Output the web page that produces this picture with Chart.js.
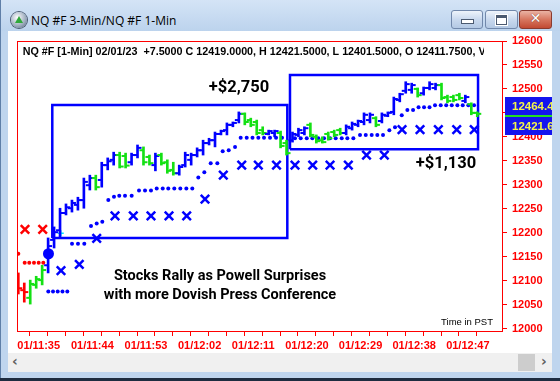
<!DOCTYPE html>
<html><head><meta charset="utf-8">
<script src="https://cdn.jsdelivr.net/npm/chart.js@4.4.1/dist/chart.umd.min.js"></script>
<style>
html,body{margin:0;padding:0;}
body{width:560px;height:381px;overflow:hidden;position:relative;background:#bfd5ee;}
#edgeL{position:absolute;left:0;top:0;width:1px;height:381px;background:#5f7fa8;}
#title{position:absolute;left:1px;top:0;width:559px;height:31px;background:linear-gradient(#d4e4f6,#bcd3ed);}
#icon{position:absolute;left:10px;top:12px;width:16px;height:16px;border-radius:50%;background:radial-gradient(circle at 40% 35%,#ffffff,#9aa9bb 60%,#4d5d73);box-shadow:0 0 0 1px #4a5a70;}
#tri{position:absolute;left:4px;top:4px;width:0;height:0;border-left:4px solid transparent;border-right:4px solid transparent;border-bottom:7px solid #2fa83a;}
#ttext{position:absolute;left:30px;top:12px;font:12px "Open Sans",sans-serif;color:#000;white-space:nowrap;}
.btn{position:absolute;top:10px;height:17px;border:1px solid #7188ab;border-radius:3px;background:linear-gradient(#eef4fb,#c9d9ee 50%,#b4c9e4);}
#bmin{left:450px;width:30px;}
#bmax{left:484px;width:31px;}
#bcls{left:518px;width:31px;border-color:#8a3a2e;background:linear-gradient(#eab3a4,#d77760 50%,#c24a33);}
#bmin i{position:absolute;left:9px;top:8px;width:11px;height:3px;background:#fff;border:1px solid #4b5a70;}
#bmax i{position:absolute;left:10px;top:4px;width:9px;height:6px;border:1px solid #4b5a70;border-top-width:3px;background:#fff;box-shadow:0 0 0 1px #fff;}
#bcls i{position:absolute;left:0;top:-1px;width:31px;text-align:center;font:bold 14px "DejaVu Sans",sans-serif;color:#fff;text-shadow:0 0 1px #5a1a10;}
#client{position:absolute;left:8px;top:31px;width:544px;height:322px;background:#fff;}
#scroll{position:absolute;left:8px;top:353px;width:544px;height:19px;background:#f0f0f0;}
#thumb{position:absolute;left:510px;top:1px;width:17px;height:17px;background:#cdcdcd;}
.arr{position:absolute;top:0px;font:bold 14px "DejaVu Sans",sans-serif;color:#606060;}
#bot{position:absolute;left:0;top:378px;width:560px;height:3px;background:#1e2c40;}
canvas{position:absolute;left:0;top:0;}
</style></head>
<body>
<div id="edgeL"></div>
<div id="title"><div id="icon"><div id="tri"></div></div><div id="ttext">NQ #F 3-Min/NQ #F 1-Min</div>
<div class="btn" id="bmin"><i></i></div><div class="btn" id="bmax"><i></i></div><div class="btn" id="bcls"><i>✕</i></div></div>
<div id="client"></div>
<div id="scroll"><span class="arr" style="left:4px">&lsaquo;</span><div id="thumb"></div><span class="arr" style="left:533px">&rsaquo;</span></div>
<div id="bot"></div>
<canvas id="c" width="560" height="381"></canvas>
<script>
// ---- data (minutes after 11:00, prices) ----
const barMinute = [32,33,34,35,36,37,38,39,40,41,42,43,44,45,46,47,48,49,50,51,52,53,54,55,56,57,58,59,60,61,62,63,64,65,66,67,68,69,70,71,72,73,74,75,76,77,78,79,80,81,82,83,84,85,86,87,88,89,90,91,92,93,94,95,96,97,98,99,100,101,102,103,104,105,106,107,108,109];
const barOpen  = [12091,12080,12064,12091,12101,12132,12185,12205,12241,12251,12258,12268,12299,12314,12310,12341,12352,12362,12360,12347,12362,12372,12358,12341,12362,12347,12331,12324,12341,12352,12362,12372,12387,12393,12406,12414,12425,12435,12448,12435,12431,12414,12406,12408,12408,12387,12393,12404,12408,12425,12400,12393,12406,12410,12414,12408,12418,12425,12431,12435,12439,12433,12444,12452,12477,12496,12498,12500,12491,12502,12502,12508,12483,12483,12487,12475,12468,12450];
const barHigh  = [12116,12095,12101,12109,12132,12189,12212,12251,12260,12268,12274,12314,12320,12320,12347,12356,12368,12368,12366,12366,12383,12379,12362,12366,12366,12352,12347,12341,12368,12366,12377,12393,12397,12410,12414,12429,12431,12452,12450,12439,12435,12421,12414,12414,12412,12393,12410,12418,12421,12429,12404,12400,12410,12414,12418,12425,12431,12435,12450,12450,12442,12450,12452,12483,12491,12515,12512,12502,12504,12515,12512,12512,12487,12487,12491,12487,12471,12452];
const barLow   = [12072,12055,12051,12084,12091,12116,12168,12189,12237,12243,12247,12251,12289,12289,12295,12331,12341,12335,12335,12341,12356,12341,12341,12329,12341,12324,12320,12320,12337,12341,12358,12362,12383,12379,12404,12404,12421,12429,12425,12421,12404,12404,12404,12400,12377,12362,12389,12400,12404,12400,12387,12387,12393,12400,12404,12404,12414,12421,12425,12429,12421,12429,12442,12446,12473,12491,12491,12483,12487,12498,12498,12477,12471,12473,12477,12471,12446,12442];
const barClose = [12084,12076,12093,12103,12122,12172,12201,12241,12253,12262,12268,12306,12314,12295,12341,12349,12362,12338,12340,12362,12377,12347,12345,12360,12345,12329,12324,12337,12362,12362,12372,12387,12393,12406,12412,12425,12429,12448,12431,12425,12408,12408,12412,12412,12381,12366,12406,12414,12418,12404,12391,12389,12397,12404,12408,12421,12427,12433,12446,12446,12425,12446,12450,12479,12489,12510,12508,12487,12502,12510,12508,12481,12475,12477,12481,12483,12450,12448];
// paint-bar state: R = before signal, G = pullback, B = trend
const barState = ("RR"+"GGG"+"BBBBBBBB"+"G"+"BBB"+"GG"+"BB"+"GG"+"B"+"GGG"+"BBBBBBBBBBB"+"GGGG"+"BB"+"GG"+"BBB"+"GGGGGG"+"BBBBB"+"G"+"BBBBBB"+"G"+"BBB"+"GGGG"+"B"+"GG").split("");
const stopDotsRed = [[31.58,12156],[32.65,12137],[33.42,12137],[34.21,12137],[35.00,12137],[35.77,12137]];
const stopDotsBlue = [[36.61,12077],[37.40,12077],[38.19,12077],[38.99,12077],[39.80,12077],
 [40.59,12177],[41.59,12177],[42.65,12177],[43.78,12214],[44.73,12219],[45.67,12223],
 [46.68,12268],[47.63,12275],[48.52,12277],[49.48,12277],[50.60,12277],
 [51.83,12288],[52.84,12288],[53.84,12288],[54.80,12292],[55.81,12292],[56.74,12292],[57.75,12292],[58.76,12292],[59.77,12292],[60.77,12292],
 [61.78,12315],[62.79,12326],[63.86,12345],[64.97,12345],[65.87,12370],[66.88,12372],[67.94,12379],
 [68.89,12398],[69.90,12398],[70.87,12398],[71.85,12398],[72.80,12398],[73.81,12398],[74.82,12398],[75.82,12398],
 [78.00,12397],[78.96,12397],[79.97,12397],[80.91,12397],[81.91,12397],[82.87,12397],[83.88,12397],[84.83,12397],[85.84,12397],[86.78,12397],[87.79,12397],
 [88.91,12404],[89.87,12404],[90.87,12404],[91.81,12404],[92.77,12404],
 [93.83,12414],[94.78,12420],[95.91,12445],[96.85,12456],[97.81,12456],[98.73,12462],[99.65,12462],[100.57,12462],
 [101.49,12466],[102.45,12466],[103.37,12466],[104.30,12466],[105.24,12466],[106.14,12466],[107.08,12466],[108.04,12466]];
const stopXRed = [[32.70,12207],[35.67,12207]];
const stopXBlue = [[38.74,12121],[41.81,12134],[44.73,12188],[47.80,12235],[50.87,12235],[53.84,12235],[56.86,12235],[59.83,12235],[62.90,12270],[65.97,12320],[69.06,12341],[71.85,12341],[74.90,12341],[78.00,12341],[80.97,12341],[83.88,12341],[86.95,12341],[90.00,12362],[92.99,12362],[95.96,12415],[98.98,12415],[102.05,12415],[105.13,12415],[108.07,12415]];
const entryDot = [36.64,12156];
const cyanMark = [38.70,12199];
// trade boxes: [startMinute, endMinute, lowPrice, highPrice]
const trade1 = [37.28,76.71,12188.7,12466.4];
const trade2 = [77.16,108.71,12374,12529];
const priceMarkers = [12464.4,12421.6];
const lastPrice = 12444.5;
const yTicks = [12000,12050,12100,12150,12200,12250,12300,12350,12400,12450,12500,12550,12600];
const xTicks = [32,35,38,41,44,47,50,53,56,59,62,65,68,71,74,77,80,83,86,89,92,95,98,101,104,107];
const headerText = "NQ #F [1-Min] 02/01/23  +7.5000 C 12419.0000, H 12421.5000, L 12401.5000, O 12411.7500, V";

// ---- chart ----
const BAR_SHIFT = -0.42;
const pal = {R:'#ff0000', G:'#14e014', B:'#0000ff'};
const cols = barState.map(s => pal[s]);
const bx = barMinute.map(m => m + BAR_SHIFT);
const pts = a => a.map(p => ({x:p[0], y:p[1]}));
const box = b => [{x:b[0],y:b[2]},{x:b[1],y:b[2]},{x:b[1],y:b[3]},{x:b[0],y:b[3]},{x:b[0],y:b[2]}];
function lab(m){const h=11+Math.floor(m/60), mm=m%60; return '01/'+h+':'+String(mm).padStart(2,'0');}

const notes = [
 {text:'+$2,750', x:68.61, y:12493.5, font:'bold 16.5px Roboto', align:'center'},
 {text:'+$1,130', x:103.34, y:12335, font:'bold 16.5px Roboto', align:'center'},
 {text:'Stocks Rally as Powell Surprises', x:65.42, y:12101, font:'bold 14.5px Roboto', align:'center'},
 {text:'with more Dovish Press Conference', x:65.42, y:12061, font:'bold 14.5px Roboto', align:'center'},
 {text:'Time in PST', x:111.22, y:12007, font:'9.5px "Liberation Sans"', align:'right'}
];

const decor = {
 id:'decor',
 beforeDatasetsDraw(chart){
   const {ctx, chartArea:a} = chart;
   ctx.save(); ctx.strokeStyle='#ff0000'; ctx.lineWidth=1;
   ctx.strokeRect(a.left+0.5, a.top+0.5, a.right-a.left, a.bottom-a.top);
   ctx.restore();
 },
 afterDraw(chart){
   const {ctx, chartArea:a, scales:{x,y}} = chart;
   ctx.save();
   // header
   ctx.save(); ctx.beginPath(); ctx.rect(a.left, a.top, 467, 30); ctx.clip();
   ctx.font='bold 10.75px "Liberation Sans"'; ctx.fillStyle='#000'; ctx.textBaseline='middle'; ctx.textAlign='left';
   ctx.fillText(headerText, x.getPixelForValue(32.32), y.getPixelForValue(12576));
   ctx.restore();
   ctx.fillStyle='#000'; ctx.textBaseline='alphabetic';
   for(const n of notes){ ctx.font=n.font; ctx.textAlign=n.align; ctx.fillText(n.text, x.getPixelForValue(n.x), y.getPixelForValue(n.y)); }
   // price markers on axis
   ctx.beginPath(); ctx.rect(a.right+1, a.top, 49, a.bottom-a.top); ctx.clip();
   for(const v of priceMarkers){
     const py = y.getPixelForValue(v);
     ctx.fillStyle='#1414ee'; ctx.fillRect(a.right+3, Math.round(py)-9, 50, 18);
     ctx.fillStyle='#f4f44a'; ctx.font='bold 11.5px "Liberation Sans"'; ctx.textAlign='left'; ctx.textBaseline='middle';
     ctx.fillText(v.toFixed(1), a.right+10, Math.round(py)+0.5);
   }
   const ly = Math.round(y.getPixelForValue(lastPrice));
   ctx.fillStyle='#22dd22'; ctx.fillRect(a.right+3, ly-1, 50, 2);
   ctx.restore();
 }
};

new Chart(document.getElementById('c'), {
 type:'scatter',
 data:{datasets:[
  {type:'scatter', data:pts([entryDot]), pointRadius:5.5, pointBackgroundColor:'#0000ff', pointBorderWidth:0},
  {type:'bar', data:bx.map((m,i)=>({x:m, y:[barLow[i], barHigh[i]]})), backgroundColor:cols, barThickness:2, grouped:false, borderWidth:0},
  {type:'scatter', data:bx.map((m,i)=>({x:m, y:barOpen[i]})), pointStyle:'dash', pointRotation:180, pointRadius:4, pointBorderWidth:2, pointBorderColor:cols},
  {type:'scatter', data:bx.map((m,i)=>({x:m, y:barClose[i]})), pointStyle:'dash', pointRotation:0, pointRadius:4, pointBorderWidth:2, pointBorderColor:cols},
  {type:'scatter', data:pts([cyanMark]), pointStyle:'cross', pointRadius:3, pointBorderWidth:1.5, pointBorderColor:'#00e5ff'},
  {type:'scatter', data:pts(stopXRed), pointStyle:'crossRot', pointRadius:6, pointBorderWidth:2.5, pointBorderColor:'#ff0000'},
  {type:'scatter', data:pts(stopXBlue), pointStyle:'crossRot', pointRadius:6, pointBorderWidth:2.5, pointBorderColor:'#0000ff'},
  {type:'scatter', data:pts(stopDotsRed), pointRadius:2, pointBackgroundColor:'#ff0000', pointBorderWidth:0},
  {type:'scatter', data:pts(stopDotsBlue), pointRadius:2, pointBackgroundColor:'#0000ff', pointBorderWidth:0},
  {type:'line', data:box(trade1), borderColor:'#0000ff', borderWidth:2.5, pointRadius:0, fill:false, tension:0},
  {type:'line', data:box(trade2), borderColor:'#0000ff', borderWidth:2.5, pointRadius:0, fill:false, tension:0}
 ]},
 options:{
  responsive:false, animation:false, events:[], devicePixelRatio:1,
  layout:{padding:{left:17, top:41, right:0, bottom:0}},
  plugins:{legend:{display:false}, tooltip:{enabled:false}},
  scales:{
   x:{type:'linear', min:31.36, max:112.73, offset:false,
      afterBuildTicks(s){ s.ticks = xTicks.map(v=>({value:v})); },
      afterFit(s){ s.height = 50; },
      grid:{drawOnChartArea:false, tickLength:5, color:'#ff0000'}, border:{display:false},
      ticks:{autoSkip:false, maxRotation:0, padding:3, color:'#ff0000', font:{family:'"Liberation Sans"', size:11, weight:'bold'},
        callback:v => ((v-35)%9===0 ? lab(v) : '')}},
   y:{type:'linear', position:'right', min:11994.8, max:12600,
      afterBuildTicks(s){ s.ticks = yTicks.map(v=>({value:v})); },
      afterFit(s){ s.width = 58; },
      grid:{drawOnChartArea:false, tickLength:5, color:'#ff0000'}, border:{display:false},
      ticks:{padding:5, color:'#ff0000', font:{family:'"Liberation Sans"', size:11, weight:'bold'}, callback:v=>String(v)}}
  }
 },
 plugins:[decor]
});
</script>
</body></html>
